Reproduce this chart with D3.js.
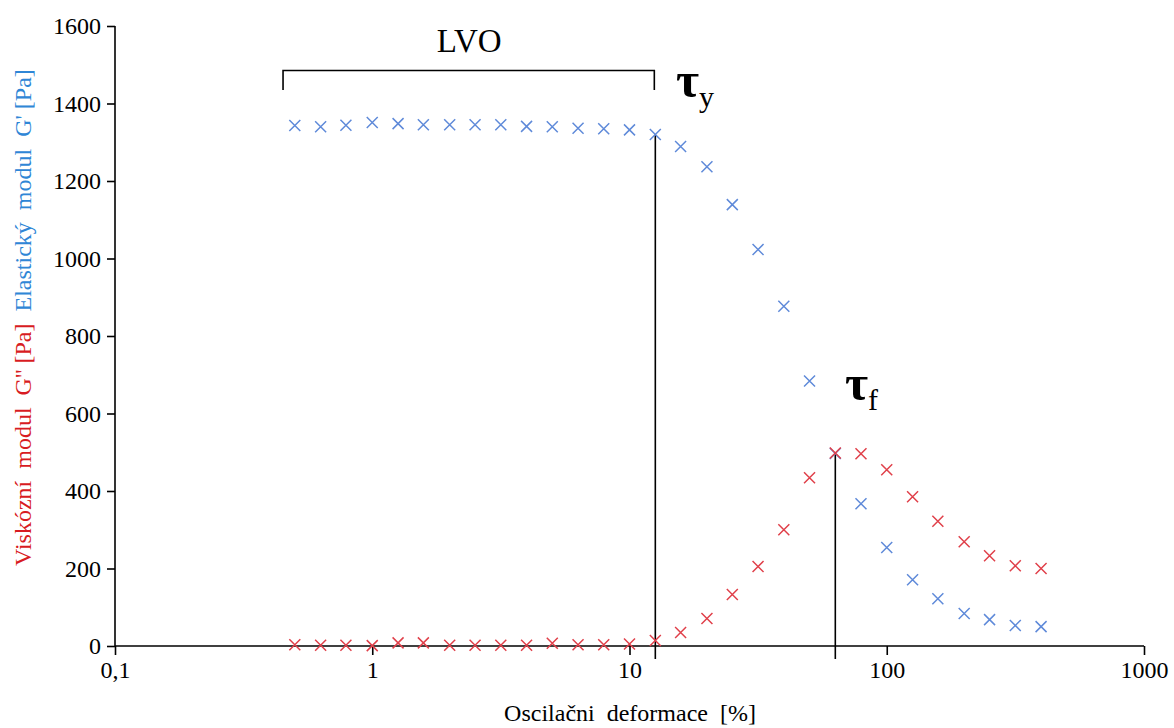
<!DOCTYPE html>
<html>
  <head>
    <meta charset="utf-8">
    <title>Oscilační test</title>
    <style>
      body {
        margin: 0;
        padding: 0;
        background: #fff;
        font-family: 'Liberation Serif', 'Times New Roman', serif;
      }
      #chart {
        width: 1174px;
        height: 728px;
      }
      text {
        white-space: pre;
      }
    </style>
  </head>
  <body>
    <div id="chart"></div>

    <script src="https://cdnjs.cloudflare.com/ajax/libs/d3/7.8.5/d3.min.js"></script>
    <script>
      // Oscillation strain [%]
      const strain = [0.5, 0.63, 0.79, 1, 1.26, 1.58, 2, 2.51, 3.16, 3.98, 5.01, 6.31, 7.94, 10,
                      12.6, 15.8, 20, 25.1, 31.6, 39.8, 50.1, 63.1, 79.4, 100, 126, 158, 200, 251, 316, 398];
      // Elastic modulus G' [Pa]
      const gElastic = [1343, 1340, 1344, 1351, 1348, 1345, 1345, 1345, 1345, 1341, 1340, 1336, 1335, 1332,
                        1320, 1289, 1237, 1139, 1023, 877, 684, 497, 367, 254, 171, 122, 84, 68, 53, 50];
      // Viscous modulus G'' [Pa]
      const gViscous = [3, 2, 2, 1, 8, 8, 2, 2, 2, 2, 7, 3, 3, 5,
                        14, 35, 71, 133, 205, 300, 434, 498, 496, 455, 385, 322, 269, 233, 207, 200];

      const xTicks = [0.1, 1, 10, 100, 1000];
      const xTickLabels = ['0,1', '1', '10', '100', '1000'];
      const yTicks = [0, 200, 400, 600, 800, 1000, 1200, 1400, 1600];

      // annotations
      const lvoRange = [0.45, 12.6];
      const lvoLevels = [1485, 1435];
      const tauY = 12.6;
      const tauF = 63.1;

      const width = 1174, height = 728;
      const svg = d3.select('#chart').append('svg')
        .attr('width', width)
        .attr('height', height);

      const x = d3.scaleLog().domain([0.1, 1000]).range([115, 1144]);
      const y = d3.scaleLinear().domain([0, 1600]).range([646, 26]);

      // axes
      const xAxis = svg.append('g')
        .attr('transform', `translate(0,${y(0)})`)
        .call(d3.axisBottom(x).tickValues(xTicks).tickFormat((d, i) => xTickLabels[i]).tickSize(9).tickPadding(6));
      const yAxis = svg.append('g')
        .attr('transform', `translate(${x(0.1)},0)`)
        .call(d3.axisLeft(y).tickValues(yTicks).tickFormat(d3.format('d')).tickSize(8).tickPadding(6));

      [xAxis, yAxis].forEach(a => {
        a.attr('font-family', "'Liberation Serif', serif").attr('font-size', 24);
        a.select('.domain').attr('stroke', '#000').attr('stroke-width', 1.6);
        a.selectAll('.tick line').attr('stroke', '#000').attr('stroke-width', 1.6);
        a.selectAll('.tick text').attr('fill', '#000');
      });
      xAxis.select('.domain').attr('d', `M${x(0.1)},0H${x(1000)}`);
      yAxis.select('.domain').attr('d', `M0,${y(1600)}V${y(0)}`);

      // axis labels
      svg.append('text')
        .attr('x', 630)
        .attr('y', 721)
        .attr('text-anchor', 'middle')
        .style('font-size', '24px')
        .text('Oscilačni  deformace  [%]');

      const yl = svg.append('text')
        .attr('transform', 'translate(31,566) rotate(-90)')
        .style('font-size', '24px');
      yl.append('tspan').attr('fill', '#d81b22').text("Viskózní  modul  G'' [Pa]");
      yl.append('tspan').attr('fill', '#2f86d6').text("  Elastický  modul  G' [Pa]");

      // annotation lines
      const ann = svg.append('g').attr('stroke', '#000').attr('stroke-width', 1.6).attr('fill', 'none');
      ann.append('path')
        .attr('d', `M${x(lvoRange[0])},${y(lvoLevels[1])}V${y(lvoLevels[0])}H${x(lvoRange[1]) - 1}V${y(lvoLevels[1])}`);
      ann.append('line')
        .attr('x1', x(tauY)).attr('x2', x(tauY))
        .attr('y1', y(0) + 13).attr('y2', y(gElastic[strain.indexOf(tauY)]));
      ann.append('line')
        .attr('x1', x(tauF)).attr('x2', x(tauF))
        .attr('y1', y(0) + 13).attr('y2', y(gViscous[strain.indexOf(tauF)]));

      svg.append('text')
        .attr('x', (x(lvoRange[0]) + x(lvoRange[1])) / 2)
        .attr('y', 52)
        .attr('text-anchor', 'middle')
        .style('font-size', '33px')
        .text('LVO');

      function tau(px, py, sub) {
        const t = svg.append('text').attr('x', px).attr('y', py);
        t.append('tspan').style('font-size', '50px').style('font-weight', 'bold').text('τ');
        t.append('tspan').attr('dy', 10).style('font-size', '30px').text(sub);
      }
      tau(676, 97, 'y');
      tau(845, 400, 'f');

      // markers
      function crosses(values, color) {
        const s = 5.5;
        svg.append('g').selectAll('path')
          .data(strain.map((d, i) => [d, values[i]]))
          .join('path')
          .attr('transform', d => `translate(${x(d[0])},${y(d[1])})`)
          .attr('d', `M${-s},${-s}L${s},${s}M${-s},${s}L${s},${-s}`)
          .attr('stroke', color)
          .attr('stroke-width', 1.5)
          .attr('fill', 'none');
      }
      crosses(gElastic, '#5f8ad9');
      crosses(gViscous, '#e0404a');
    </script>
  </body>
</html>
